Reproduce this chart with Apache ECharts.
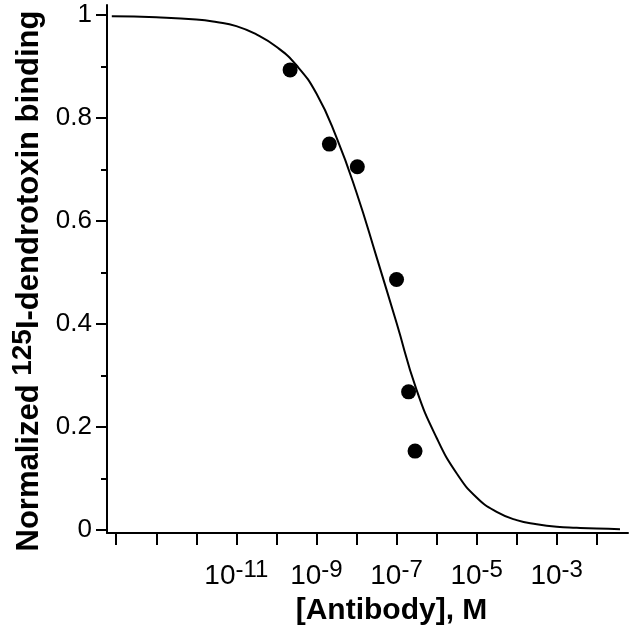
<!DOCTYPE html>
<html>
<head>
<meta charset="utf-8">
<script src="https://cdn.jsdelivr.net/npm/echarts@6/dist/echarts.min.js"></script>
<style>
  html, body { margin: 0; padding: 0; background: #fff; }
  #chart { width: 640px; height: 631px; }
</style>
</head>
<body>
<div id="chart"></div>
<script>
// measured points: antibody concentration (M) and normalized binding
var antibodyConc = [2.2e-10, 2.1e-9, 1.05e-8, 1.0e-7, 2.0e-7, 2.9e-7]
var bindingVals = [0.893, 0.749, 0.705, 0.486, 0.268, 0.153]

// fitted curve (log10 of concentration, binding)
var fitLogConc = [-14.11, -13, -12, -11.5, -11, -10.5, -10, -9.5, -9, -8.5, -8, -7.5, -7, -6.5, -6, -5.5, -5, -4.5, -4, -3.5, -3, -2.5, -2, -1.42]
var fitBinding = [0.997, 0.995, 0.991, 0.986, 0.978, 0.962, 0.938, 0.902, 0.847, 0.762, 0.655, 0.53, 0.402, 0.272, 0.179, 0.11, 0.063, 0.035, 0.019, 0.011, 0.006, 0.004, 0.0025, 0.0015]

// axis ticks (x in log10 units)
var xTickExp = [-14, -13, -12, -11, -10, -9, -8, -7, -6, -5, -4, -3, -2]
var xLabelExp = [-11, -9, -7, -5, -3]
var yMajorTicks = [0, 0.2, 0.4, 0.6, 0.8, 1]
var yMinorTicks = [0.1, 0.3, 0.5, 0.7, 0.9]

var font = 'Liberation Sans, Arial, Helvetica, sans-serif'

var scatterData = []
for (var i = 0; i < antibodyConc.length; i++) {
  scatterData.push([Math.log10(antibodyConc[i]), bindingVals[i]])
}
var curveData = []
for (var j = 0; j < fitLogConc.length; j++) {
  curveData.push([fitLogConc[j], fitBinding[j]])
}

var myChart = echarts.init(document.getElementById('chart'))
var option = {
  backgroundColor: '#fff',
  animation: false,
  grid: {
    left: 107,
    right: 12,
    top: 5,
    bottom: 97,
    containLabel: false
  },
  xAxis: {
    type: 'value',
    min: -14.23,
    max: -1.22,
    name: '[Antibody], M',
    nameLocation: 'middle',
    nameGap: 63,
    nameTextStyle: {
      fontFamily: font,
      fontWeight: 'bold',
      fontSize: 30,
      color: '#000',
      padding: [0, 0, 0, 48]
    },
    axisLine: { onZero: false, lineStyle: { color: '#000', width: 2 } },
    axisTick: { customValues: xTickExp, length: 12, lineStyle: { color: '#000', width: 2 } },
    axisLabel: {
      customValues: xLabelExp,
      margin: 25,
      formatter: function(v) {
        return '{b|10}{s|' + v + '}'
      },
      rich: {
        b: { fontFamily: font, fontSize: 28, color: '#000', verticalAlign: 'bottom' },
        s: { fontFamily: font, fontSize: 24, color: '#000', verticalAlign: 'bottom', padding: [0, 0, 8, 0] }
      }
    },
    splitLine: { show: false }
  },
  yAxis: [
    {
      type: 'value',
      min: -0.006,
      max: 1.019,
      name: '{t|Normalized }{s|125}{t|I-dendrotoxin binding}',
      nameLocation: 'middle',
      nameRotate: 90,
      nameGap: 58,
      nameTextStyle: {
        padding: [0, 24, 0, 0],
        rich: {
          t: { fontFamily: font, fontWeight: 'bold', fontSize: 31, color: '#000', verticalAlign: 'bottom' },
          s: { fontFamily: font, fontWeight: 'bold', fontSize: 28, color: '#000', verticalAlign: 'bottom', padding: [0, 0, 8, 0] }
        }
      },
      axisLine: { onZero: false, lineStyle: { color: '#000', width: 2 } },
      axisTick: { customValues: yMajorTicks, length: 11, lineStyle: { color: '#000', width: 2 } },
      axisLabel: {
        customValues: yMajorTicks,
        margin: 15,
        fontFamily: font,
        fontSize: 26,
        color: '#000'
      },
      splitLine: { show: false }
    },
    {
      // minor ticks only
      type: 'value',
      position: 'left',
      min: -0.006,
      max: 1.019,
      axisLine: { show: false, onZero: false },
      axisTick: { customValues: yMinorTicks, length: 6, lineStyle: { color: '#000', width: 2 } },
      axisLabel: { show: false },
      splitLine: { show: false }
    }
  ],
  series: [
    {
      type: 'line',
      data: curveData,
      smooth: true,
      showSymbol: false,
      lineStyle: { color: '#000', width: 2 },
      z: 2
    },
    {
      type: 'scatter',
      data: scatterData,
      symbol: 'circle',
      symbolSize: 15,
      itemStyle: { color: '#000', opacity: 1 },
      z: 3
    }
  ]
}
myChart.setOption(option)
window.addEventListener('resize', function() {
  myChart.resize()
})
</script>
</body>
</html>
